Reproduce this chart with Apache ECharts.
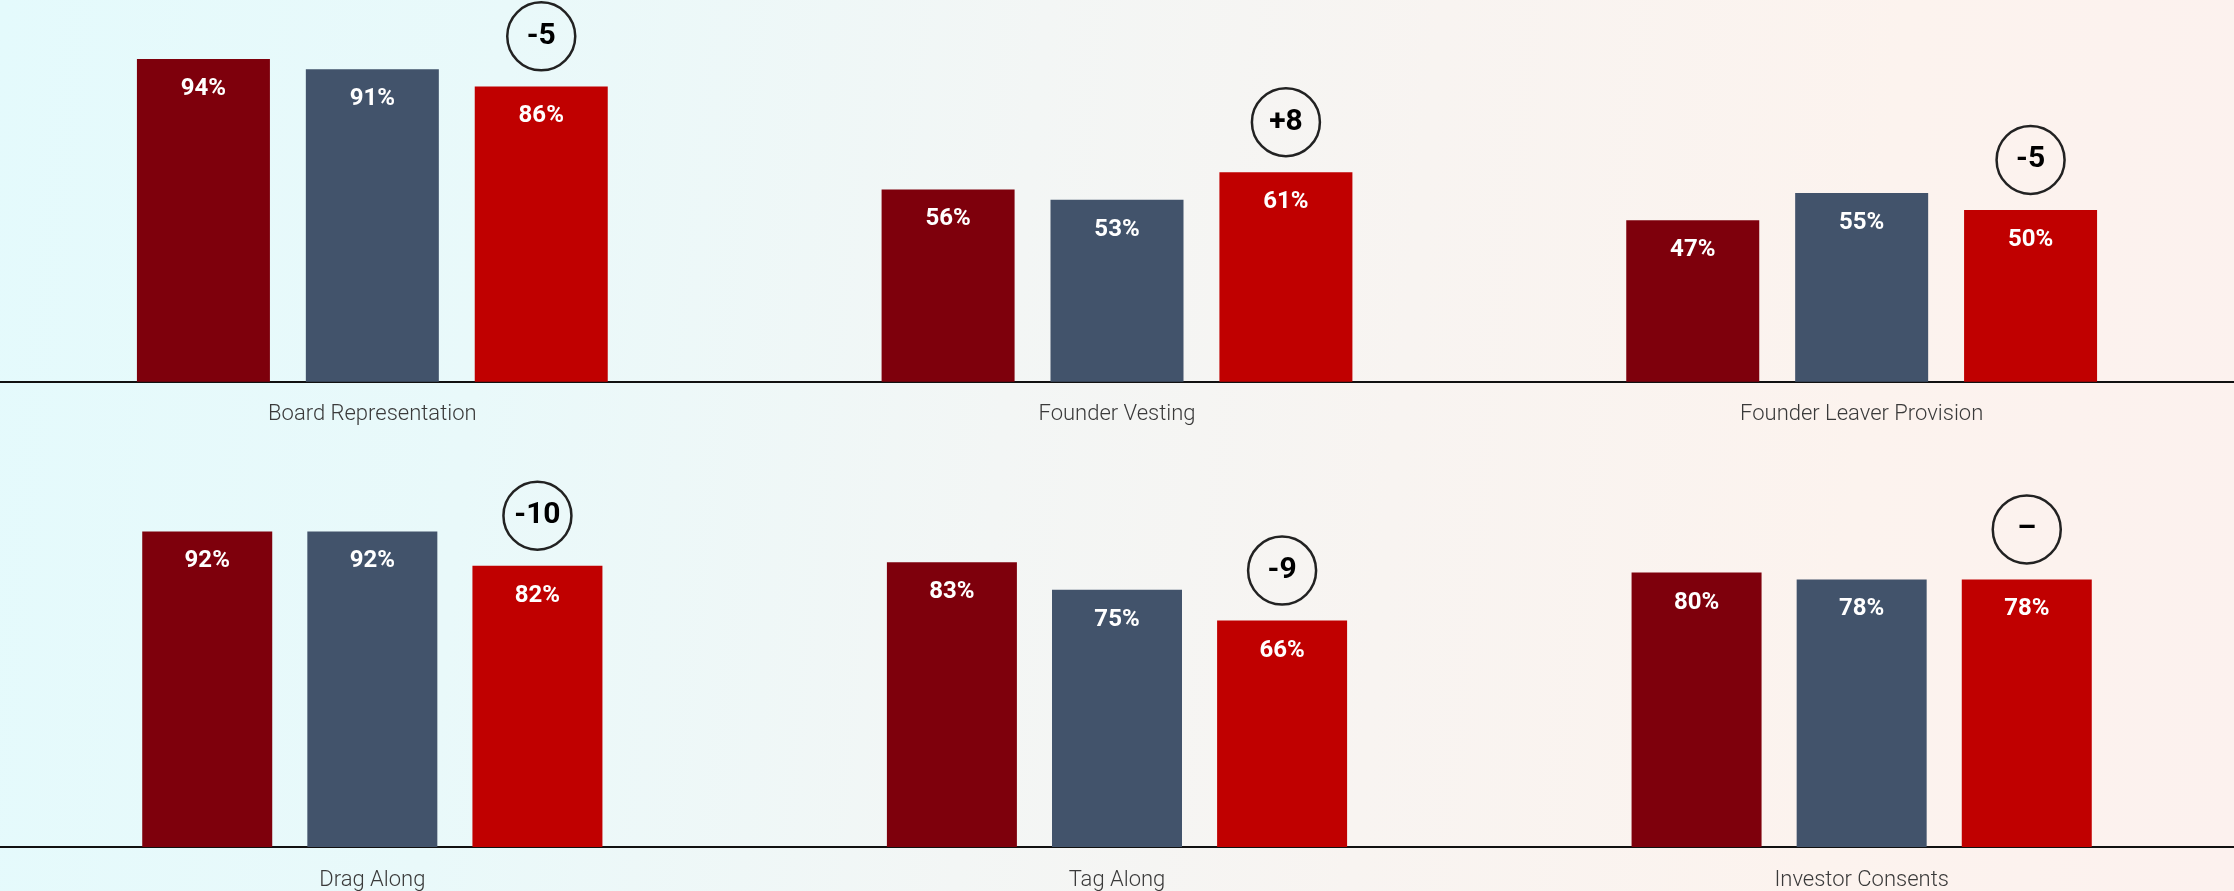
<!DOCTYPE html>
<html>
<head>
<meta charset="utf-8">
<script src="https://cdn.jsdelivr.net/npm/echarts@6/dist/echarts.min.js"></script>
<style>
  html, body { margin: 0; padding: 0; }
  body {
    width: 2234px; height: 891px; overflow: hidden;
    background: linear-gradient(96deg, #e4fafc 0%, #e9f9fa 22%, #f3f6f5 45%, #f8f4f1 62%, #fcf3ee 82%, #fcf1ee 100%);
  }
  #chart { width: 2234px; height: 891px; }
</style>
</head>
<body>
<div id="chart"></div>
<script>
// Provisions shown in each row
const topCategories = ['Board Representation', 'Founder Vesting', 'Founder Leaver Provision'];
const bottomCategories = ['Drag Along', 'Tag Along', 'Investor Consents'];

// Share of deals including each provision (%), three periods per provision
const topEarliest = [94, 56, 47];
const topPrevious = [91, 53, 55];
const topCurrent  = [86, 61, 50];

const bottomEarliest = [92, 83, 80];
const bottomPrevious = [92, 75, 78];
const bottomCurrent  = [82, 66, 78];

const seriesNames = ['Earliest period', 'Previous period', 'Current period'];
const seriesColors = ['#7e000c', '#42536b', '#c00000'];

const BADGE_LIFT = 14.6;   // badge sits this many points above the current bar
const BAR_GAP = 0.27;

function badgeText(cur, prev) {
  const d = cur - prev;
  if (d === 0) return '\u2013';
  return d > 0 ? '+' + d : String(d);
}

function barSeries(name, data, color, gridIdx, barWidth) {
  return {
    type: 'bar',
    name: name,
    xAxisIndex: gridIdx,
    yAxisIndex: gridIdx,
    data: data,
    barWidth: barWidth,
    barGap: (BAR_GAP * 100) + '%',
    itemStyle: { color: color },
    label: {
      show: true,
      position: 'insideTop',
      distance: 18,
      formatter: '{c}%',
      color: '#ffffff',
      fontFamily: 'Roboto',
      fontWeight: 'bold',
      fontSize: 24
    },
    emphasis: { disabled: true }
  };
}

function badgeSeries(cats, cur, prev, gridIdx, barWidth) {
  return {
    type: 'scatter',
    xAxisIndex: gridIdx,
    yAxisIndex: gridIdx,
    clip: false,
    symbol: 'circle',
    symbolSize: 68,
    symbolOffset: [barWidth * (1 + BAR_GAP), 0],
    itemStyle: { color: 'rgba(0,0,0,0)', borderColor: '#222222', borderWidth: 2.5, opacity: 1 },
    label: {
      show: true,
      position: 'inside',
      color: '#000000',
      fontFamily: 'Roboto',
      fontWeight: 'bold',
      fontSize: 30,
      formatter: p => badgeText(cur[p.dataIndex], prev[p.dataIndex])
    },
    data: cats.map((c, i) => [c, cur[i] + BADGE_LIFT]),
    emphasis: { disabled: true },
    z: 5
  };
}

function xAxis(cats, gridIdx) {
  return {
    type: 'category',
    gridIndex: gridIdx,
    data: cats,
    axisLine: { show: true, lineStyle: { color: '#111111', width: 2 } },
    axisTick: { show: false },
    axisLabel: {
      margin: 22,
      color: '#3a3a3a',
      fontFamily: 'Roboto',
      fontWeight: 300,
      fontSize: 22
    },
    splitLine: { show: false }
  };
}

function yAxis(gridIdx) {
  return {
    type: 'value',
    gridIndex: gridIdx,
    min: 0,
    max: 100,
    show: false,
    splitLine: { show: false }
  };
}

const TOP_BAR_W = 133;
const BOTTOM_BAR_W = 130;

const chart = echarts.init(document.getElementById('chart'));
chart.setOption({
  animation: false,
  backgroundColor: 'transparent',
  grid: [
    { left: 0, right: 0, top: 38.4, height: 343.3 },
    { left: 0, right: 0, top: 504, height: 343.3 }
  ],
  xAxis: [xAxis(topCategories, 0), xAxis(bottomCategories, 1)],
  yAxis: [yAxis(0), yAxis(1)],
  series: [
    barSeries(seriesNames[0], topEarliest, seriesColors[0], 0, TOP_BAR_W),
    barSeries(seriesNames[1], topPrevious, seriesColors[1], 0, TOP_BAR_W),
    barSeries(seriesNames[2], topCurrent,  seriesColors[2], 0, TOP_BAR_W),
    barSeries(seriesNames[0], bottomEarliest, seriesColors[0], 1, BOTTOM_BAR_W),
    barSeries(seriesNames[1], bottomPrevious, seriesColors[1], 1, BOTTOM_BAR_W),
    barSeries(seriesNames[2], bottomCurrent,  seriesColors[2], 1, BOTTOM_BAR_W),
    badgeSeries(topCategories, topCurrent, topPrevious, 0, TOP_BAR_W),
    badgeSeries(bottomCategories, bottomCurrent, bottomPrevious, 1, BOTTOM_BAR_W)
  ]
});
</script>
</body>
</html>
